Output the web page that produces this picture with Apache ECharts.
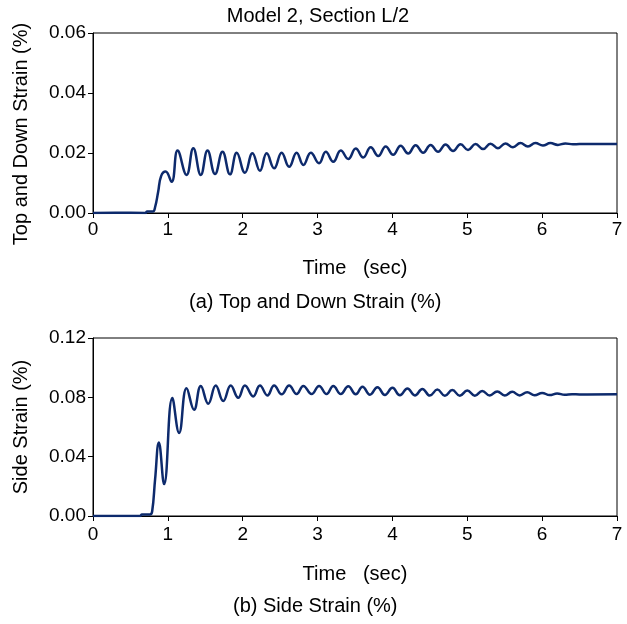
<!DOCTYPE html>
<html>
<head>
<meta charset="utf-8">
<script src="https://cdn.jsdelivr.net/npm/echarts@6/dist/echarts.min.js"></script>
<style>
  html, body { margin: 0; padding: 0; background: #fff; }
  #chart { width: 627px; height: 624px; }
</style>
</head>
<body>
<div id="chart"></div>
<script>
// data (peaks / troughs of the response)
const topTime = [0, 0.3, 0.70, 0.72, 0.80, 0.83, 0.87, 0.91, 0.97, 1.05, 1.13, 1.25, 1.34, 1.44, 1.53, 1.63, 1.73, 1.83, 1.92, 2.03,
  2.13, 2.23, 2.32, 2.42, 2.52, 2.62, 2.72, 2.81, 2.91, 3.02, 3.11, 3.21, 3.31, 3.41, 3.51, 3.61, 3.71, 3.81, 3.91, 4.01,
  4.11, 4.21, 4.31, 4.41, 4.51, 4.61, 4.71, 4.81, 4.91, 5.01, 5.11, 5.21, 5.31, 5.41, 5.51, 5.61, 5.71, 5.81, 5.91, 6.01,
  6.11, 6.21, 6.31, 6.41, 6.50, 7.0]
const topStrain = [0, 0.0001, 0, 0.0005, 0.0005, 0.002, 0.007, 0.0123, 0.0138, 0.0104, 0.0208, 0.0127, 0.0216, 0.0127, 0.0208, 0.0130, 0.0204, 0.0129, 0.0201, 0.0134,
  0.0199, 0.0141, 0.0199, 0.0149, 0.0201, 0.0154, 0.0201, 0.0160, 0.0201, 0.0166, 0.0204, 0.0171, 0.0208, 0.0180, 0.0215, 0.0185, 0.0219, 0.0190, 0.0222, 0.0194,
  0.0224, 0.0198, 0.0226, 0.0201, 0.0227, 0.0204, 0.0228, 0.0207, 0.0229, 0.0210, 0.0230, 0.0213, 0.0231, 0.0216, 0.0232, 0.0219, 0.0233, 0.0222, 0.0233, 0.0225,
  0.0233, 0.0227, 0.0232, 0.0229, 0.0230, 0.0230]

const sideTime = [0, 0.63, 0.65, 0.76, 0.79, 0.83, 0.88, 0.95, 1.06, 1.15, 1.25, 1.35, 1.44, 1.54, 1.64, 1.74, 1.84, 1.94, 2.03, 2.14,
  2.23, 2.33, 2.42, 2.52, 2.62, 2.72, 2.81, 2.92, 3.02, 3.12, 3.21, 3.31, 3.41, 3.51, 3.60, 3.70, 3.80, 3.90, 4.00, 4.10,
  4.20, 4.30, 4.40, 4.50, 4.60, 4.70, 4.80, 4.90, 5.00, 5.10, 5.20, 5.30, 5.40, 5.50, 5.60, 5.70, 5.80, 5.90, 6.00, 6.10,
  6.20, 6.30, 6.40, 6.50, 7.0]
const sideStrain = [0, 0, 0.001, 0.001, 0.003, 0.025, 0.0495, 0.0215, 0.0795, 0.056, 0.0862, 0.0717, 0.0876, 0.0757, 0.0880, 0.0775, 0.0880, 0.0797, 0.0880, 0.0806,
  0.0880, 0.0813, 0.0880, 0.0820, 0.0880, 0.0822, 0.0877, 0.0822, 0.0877, 0.0822, 0.0876, 0.0822, 0.0874, 0.0820, 0.0872, 0.0818, 0.0868, 0.0816, 0.0864, 0.0814,
  0.0860, 0.0813, 0.0856, 0.0812, 0.0852, 0.0811, 0.0849, 0.0811, 0.0846, 0.0811, 0.0843, 0.0812, 0.0840, 0.0812, 0.0837, 0.0813, 0.0834, 0.0814, 0.0830, 0.0815,
  0.0826, 0.0817, 0.0821, 0.0819, 0.0820, 0.0820]

const topTicks = [0, 0.02, 0.04, 0.06]
const sideTicks = [0, 0.04, 0.08, 0.12]

const FONT = 'Liberation Sans, Arial, sans-serif'
const LINE = '#0d2a6c'

const chart = echarts.init(document.getElementById('chart'), null, { renderer: 'canvas' })

const xAxisBase = (gridIndex, labelMargin, nameGap) => ({
  type: 'value',
  gridIndex,
  min: 0,
  max: 7,
  interval: 1,
  name: 'Time   (sec)',
  nameLocation: 'middle',
  nameGap,
  nameTextStyle: { color: '#000', fontSize: 20, fontFamily: FONT },
  axisLine: { onZero: false, lineStyle: { color: '#000', width: 1 } },
  axisTick: { show: true, length: 5, lineStyle: { color: '#000' } },
  axisLabel: { color: '#000', fontSize: 19, fontFamily: FONT, margin: labelMargin },
  splitLine: { show: false },
})

const yAxisBase = (gridIndex, ticks, name, pad) => ({
  type: 'value',
  gridIndex,
  min: ticks[0],
  max: ticks[ticks.length - 1],
  interval: ticks[1] - ticks[0],
  name,
  nameLocation: 'middle',
  nameGap: 62,
  nameTextStyle: { color: '#000', fontSize: 20, fontFamily: FONT, padding: pad },
  axisLine: { show: true, lineStyle: { color: '#000', width: 1 } },
  axisTick: { show: true, length: 5, lineStyle: { color: '#000' } },
  axisLabel: {
    color: '#000', fontSize: 19, fontFamily: FONT, margin: 7,
    formatter: (v) => v.toFixed(2),
  },
  splitLine: { show: false },
})

const option = {
  backgroundColor: '#fff',
  animation: false,
  title: {
    text: 'Model 2, Section L/2',
    left: 313,
    textAlign: 'center',
    top: 1,
    textStyle: { color: '#000', fontSize: 20, fontWeight: 'normal', fontFamily: FONT },
  },
  grid: [
    { left: 93, right: 10, top: 33, height: 180, show: true, borderColor: '#000', borderWidth: 1, backgroundColor: 'transparent' },
    { left: 93, right: 10, top: 338, height: 178, show: true, borderColor: '#000', borderWidth: 1, backgroundColor: 'transparent' },
  ],
  xAxis: [xAxisBase(0, 7, 45), xAxisBase(1, 9, 48)],
  yAxis: [
    yAxisBase(0, topTicks, 'Top and Down Strain (%)', [0, 22, 0, 0]),
    yAxisBase(1, sideTicks, 'Side Strain (%)', [0, 0, 0, 0]),
  ],
  graphic: [
    {
      type: 'text',
      left: 189,
      top: 292,
      style: { text: '(a) Top and Down Strain (%)', fill: '#000', fontSize: 20, fontFamily: FONT },
    },
    {
      type: 'text',
      left: 233,
      top: 596,
      style: { text: '(b) Side Strain (%)', fill: '#000', fontSize: 20, fontFamily: FONT },
    },
  ],
  series: [
    {
      name: 'Top and Down Strain',
      type: 'line',
      xAxisIndex: 0,
      yAxisIndex: 0,
      showSymbol: false,
      smooth: 0.45,
      lineStyle: { color: LINE, width: 2.5 },
      data: topTime.map((t, i) => [t, topStrain[i]]),
    },
    {
      name: 'Side Strain',
      type: 'line',
      xAxisIndex: 1,
      yAxisIndex: 1,
      showSymbol: false,
      smooth: 0.45,
      lineStyle: { color: LINE, width: 2.5 },
      data: sideTime.map((t, i) => [t, sideStrain[i]]),
    },
  ],
}

chart.setOption(option)
</script>
</body>
</html>
